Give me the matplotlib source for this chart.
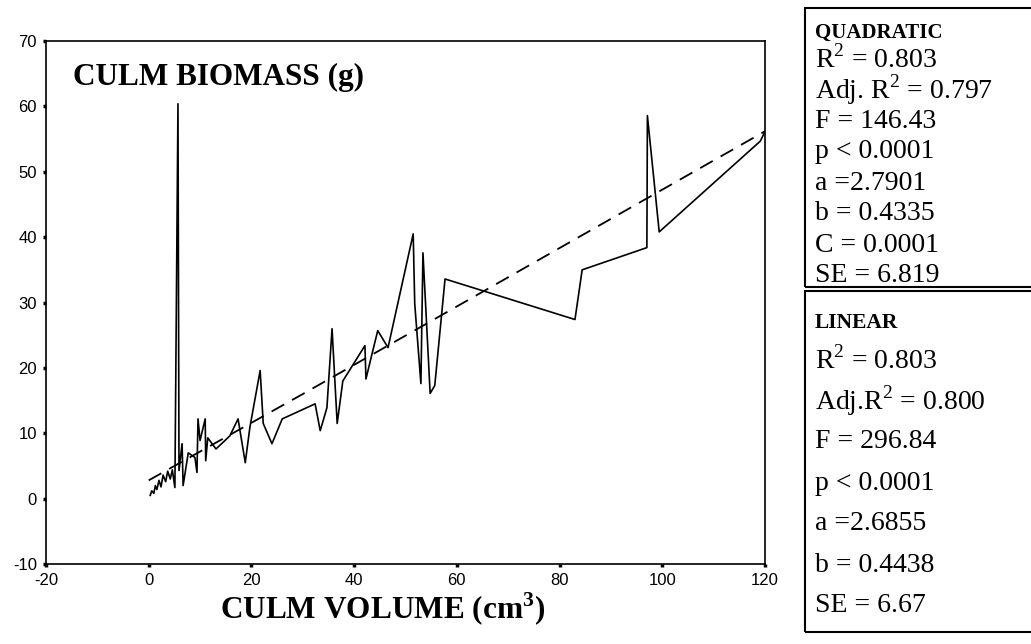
import matplotlib
matplotlib.use("Agg")
import matplotlib.pyplot as plt
import matplotlib.patches as mpatches

# culm volume (cm3) vs culm biomass (g)
volume = [0.3, 0.6, 1.0, 1.3, 1.6, 2.0, 2.4, 2.8, 3.3, 3.7, 4.2, 4.6, 5.1, 5.7, 5.9,
          6.5, 6.7, 7.7, 9.0, 9.4, 9.6, 10.0, 11.0, 11.1, 11.5, 13.1, 15.8, 17.4,
          18.8, 19.7, 21.7, 22.3, 24.0, 26.0, 32.4, 33.4, 34.7, 35.7, 36.7, 37.8,
          42.1, 42.3, 43.5, 44.6, 46.6, 51.5, 51.8, 53.0, 53.4, 54.8, 55.7, 57.7,
          83.0, 84.4, 97.0, 97.1, 99.4, 119.1, 119.9]
biomass = [0.5, 1.2, 0.8, 2.0, 1.4, 2.8, 1.8, 3.6, 2.6, 4.2, 3.0, 4.4, 1.7, 60.4, 4.3,
           8.4, 2.0, 7.0, 6.3, 4.0, 12.2, 8.9, 12.2, 5.8, 9.3, 7.6, 9.6, 12.2,
           5.5, 10.9, 19.6, 11.5, 8.4, 12.2, 14.5, 10.4, 13.9, 26.0, 11.5, 18.0,
           23.4, 18.3, 22.2, 25.7, 23.1, 40.5, 29.8, 17.6, 37.6, 16.1, 17.3, 33.6,
           27.4, 35.0, 38.4, 58.6, 40.8, 54.7, 56.0]

# fitted line (dashed)
fit_x = [0, 30, 60, 90, 120]
fit_y = [2.8, 16.0, 29.4, 42.8, 56.2]

xticks = [-20, 0, 20, 40, 60, 80, 100, 120]
yticks = [-10, 0, 10, 20, 30, 40, 50, 60, 70]

quad_lines = ["R$^2$ = 0.803", "Adj. R$^2$ = 0.797", "F = 146.43", "p < 0.0001",
              "a =2.7901", "b = 0.4335", "C = 0.0001", "SE = 6.819"]
lin_lines = ["R$^2$ = 0.803", "Adj.R$^2$ = 0.800", "F = 296.84", "p < 0.0001",
             "a =2.6855", "b = 0.4438", "SE = 6.67"]

plt.rcParams['mathtext.fontset'] = 'custom'
plt.rcParams['mathtext.rm'] = 'Liberation Serif'
plt.rcParams['mathtext.bf'] = 'Liberation Serif:bold'
plt.rcParams['axes.unicode_minus'] = False

fig = plt.figure(figsize=(10.31, 6.44), dpi=100)
ax = fig.add_axes([0.0446, 0.1242, 0.6974, 0.8121])

ax.plot(volume, biomass, color='black', linewidth=1.2)
ax.plot(fit_x, fit_y, color='black', linewidth=1.3, linestyle=(0, (8, 5)))

ax.set_xlim(-20, 120)
ax.set_ylim(-10, 70)
ax.set_xticks(xticks)
ax.set_yticks(yticks)
ax.tick_params(direction='out', length=2.5, width=2.5, labelsize=12, pad=4)
for lab in ax.get_xticklabels() + ax.get_yticklabels():
    lab.set_fontfamily('Liberation Sans')
for sp in ax.spines.values():
    sp.set_linewidth(1.2)

ax.text(0.038, 0.931, "CULM BIOMASS (g)", transform=ax.transAxes, va='center',
        ha='left', fontsize=22.5, fontweight='bold', family='Liberation Serif')
fig.text(0.3715, 0.053, "CULM VOLUME (cm$^\\mathbf{3}$)", ha='center', va='center',
         fontsize=22.5, fontweight='bold', family='Liberation Serif')

# stats boxes
W, H = 1031., 644.
box1 = mpatches.Rectangle((805 / W, 1 - 287 / H), 0.3, (287 - 8) / H,
                          transform=fig.transFigure, fill=False, linewidth=1.5,
                          edgecolor='black')
box2 = mpatches.Rectangle((805 / W, 1 - 632 / H), 0.3, (632 - 291) / H,
                          transform=fig.transFigure, fill=False, linewidth=1.5,
                          edgecolor='black')
fig.add_artist(box1)
fig.add_artist(box2)

tx = 815 / W
fig.text(tx, 1 - 33 / H, "QUADRATIC", va='center', ha='left', fontsize=15,
         fontweight='bold', family='Liberation Serif')
for i, s in enumerate(quad_lines):
    fig.text(tx, 1 - (59 + i * 31) / H, s, va='center', ha='left', fontsize=20,
             family='Liberation Serif')

fig.text(tx, 1 - 323 / H, "LINEAR", va='center', ha='left', fontsize=15.5,
         fontweight='bold', family='Liberation Serif')
for i, s in enumerate(lin_lines):
    fig.text(tx, 1 - (360 + i * 41) / H, s, va='center', ha='left', fontsize=20,
             family='Liberation Serif')

fig.savefig("out.png", dpi=100)
